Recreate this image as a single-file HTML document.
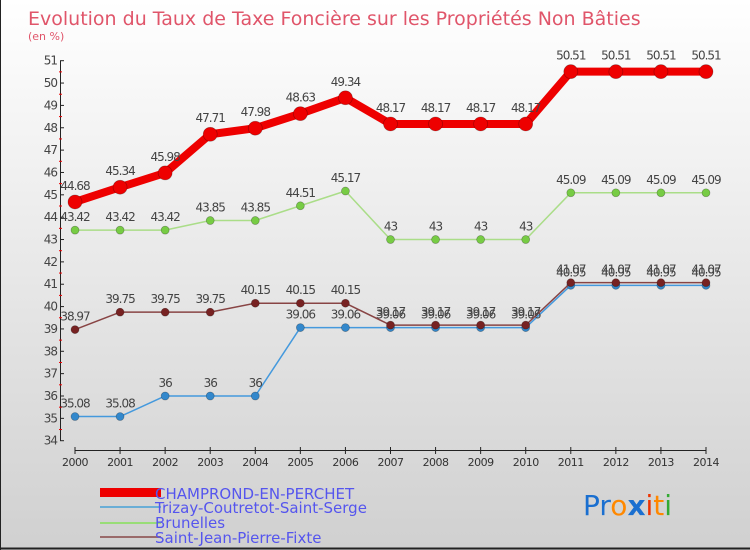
<!DOCTYPE html>
<html><head><meta charset="utf-8"><style>
body{margin:0;}
#wrap{width:750px;height:550px;position:relative;overflow:hidden;background:linear-gradient(#ffffff,#d0d0d0);font-family:"DejaVu Sans","Liberation Sans",sans-serif;}
</style></head><body>
<div id="wrap">
<svg id="svg" width="750" height="550" xmlns="http://www.w3.org/2000/svg" style="position:absolute;left:0;top:0">
<line x1="0" y1="548.5" x2="750" y2="548.5" stroke="#222" stroke-width="2"/>
<line x1="0.5" y1="0" x2="0.5" y2="550" stroke="#222" stroke-width="1"/>
<text x="28" y="25" font-size="19" fill="#e0556a">Evolution du Taux de Taxe Foncière sur les Propriétés Non Bâties</text>
<text x="28" y="40" font-size="11" fill="#e0556a">(en %)</text>
<g id="axes"></g>
<g id="series"></g>
<g>
<rect x="100" y="488" width="61" height="9" fill="#ee0000"/>
<text x="155" y="499" font-size="15" fill="#5555ee">CHAMPROND-EN-PERCHET</text>
<rect x="100" y="506" width="61" height="2" fill="#6aaed6"/>
<text x="155" y="513" font-size="15" fill="#5555ee">Trizay-Coutretot-Saint-Serge</text>
<rect x="100" y="522" width="61" height="2" fill="#99dd77"/>
<text x="155" y="528" font-size="15" fill="#5555ee">Brunelles</text>
<rect x="100" y="536" width="61" height="2" fill="#9a6a6a"/>
<text x="155" y="543" font-size="15" fill="#5555ee">Saint-Jean-Pierre-Fixte</text>
</g>
<g font-size="28" font-family="'DejaVu Sans',sans-serif">
<text x="583" y="515"><tspan fill="#1a6fd0">Pr</tspan><tspan fill="#ff8800">o</tspan><tspan fill="#1a6fd0" font-weight="bold">x</tspan><tspan fill="#ee3300">i</tspan><tspan fill="#ff8800">t</tspan><tspan fill="#33aa33">i</tspan></text>
</g>
</svg>
</div>
<script>
const years=[2000,2001,2002,2003,2004,2005,2006,2007,2008,2009,2010,2011,2012,2013,2014];
const yTicks=[34,35,36,37,38,39,40,41,42,43,44,45,46,47,48,49,50,51];
const champrond=[44.68,45.34,45.98,47.71,47.98,48.63,49.34,48.17,48.17,48.17,48.17,50.51,50.51,50.51,50.51];
const trizay=[35.08,35.08,36,36,36,39.06,39.06,39.06,39.06,39.06,39.06,40.95,40.95,40.95,40.95];
const brunelles=[43.42,43.42,43.42,43.85,43.85,44.51,45.17,43,43,43,43,45.09,45.09,45.09,45.09];
const saintJean=[38.97,39.75,39.75,39.75,40.15,40.15,40.15,39.17,39.17,39.17,39.17,41.07,41.07,41.07,41.07];
const NS="http://www.w3.org/2000/svg";
function xs(i){return 75+i*(706-75)/(years.length-1);}
function ys(v){return 440.7-(v-34)*(380/17);}
function mk(tag,attrs,parent){const e=document.createElementNS(NS,tag);for(const k in attrs)e.setAttribute(k,attrs[k]);parent.appendChild(e);return e;}
const ax=document.getElementById('axes');
let l=mk('line',{x1:60.5,y1:ys(51),x2:60.5,y2:ys(34),stroke:'#222'},ax);


l=mk('line',{x1:75,y1:450.5,x2:706,y2:450.5,stroke:'#222'},ax);


yTicks.forEach(v=>{
 const y=ys(v);
 mk('line',{x1:60,y1:y,x2:64,y2:y,stroke:'#222'},ax);
 if(v<51){mk('line',{x1:59,y1:ys(v+0.5),x2:62,y2:ys(v+0.5),stroke:'#e00'},ax);}
 const t=mk('text',{x:57,y:y+4,'text-anchor':'end','font-size':12,fill:'#444','letter-spacing':'-1'},ax);
 t.textContent=v;
 
 
});
years.forEach((yr,i)=>{
 const x=xs(i);
 mk('line',{x1:x,y1:447,x2:x,y2:454,stroke:'#222'},ax);
 const t=mk('text',{x:x,y:466,'text-anchor':'middle','font-size':11,fill:'#333','letter-spacing':'-0.5'},ax);
 t.textContent=yr;
 
 
});
const sg=document.getElementById('series');
function draw(name,vals,color,dot,w,r,fs){
 const g=mk('g',{},sg);
 
 
 const p=mk('polyline',{points:vals.map((v,i)=>xs(i)+','+ys(v)).join(' '),fill:'none',stroke:color,'stroke-width':w,'stroke-linejoin':'round'},g);
 
 
 vals.forEach((v,i)=>{
  const c=mk('circle',{cx:xs(i),cy:ys(v),r:r,fill:dot,stroke:'rgba(0,0,0,0.3)','stroke-width':0.7},g);
  
  
  const t=mk('text',{x:xs(i),y:ys(v)-(r+5),'text-anchor':'middle','font-size':fs,fill:'#444','letter-spacing':'-1'},g);
  t.textContent=v;
  
  
 });
}
draw('brunelles',brunelles,'#aadd88','#77cc44',1.5,4,12);
draw('trizay',trizay,'#4499dd','#3388cc',1.5,4,12);
draw('saint-jean',saintJean,'#884444','#772222',1.5,4,12);
draw('champrond',champrond,'#ee0000','#ee0000',8,7,12);
</script>
</body></html>
